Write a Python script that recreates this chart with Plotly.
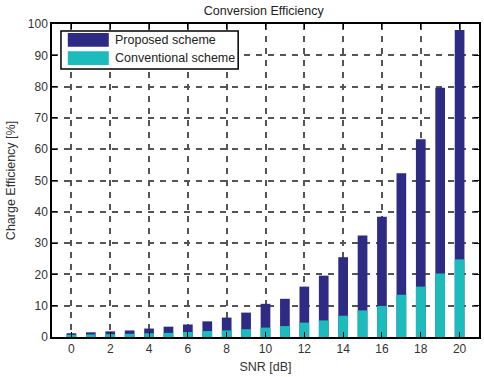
import plotly.graph_objects as go

snr = list(range(0, 21))
proposed = [1.2, 1.5, 1.8, 2.1, 2.7, 3.3, 4.0, 5.0, 6.2, 7.8, 10.6, 12.2, 16.1, 19.6, 25.5,
            32.4, 38.4, 52.3, 63.2, 79.6, 98.1]
conventional = [0.7, 0.8, 0.9, 1.0, 1.2, 1.3, 1.6, 1.9, 2.1, 2.5, 3.0, 3.5, 4.6, 5.3, 6.8,
                8.5, 9.9, 13.5, 16.1, 20.3, 24.8]
series_names = ["Proposed scheme", "Conventional scheme"]
colors = ["#2d2b84", "#1cbcbc"]
x_ticks = list(range(0, 21, 2))
y_ticks = list(range(0, 101, 10))

fig = go.Figure()
for name, vals, c in zip(series_names, [proposed, conventional], colors):
    fig.add_trace(go.Bar(x=snr, y=vals, name=name, marker=dict(color=c, line=dict(width=0)),
                         width=0.5, showlegend=False))

font = "Liberation Sans, Arial, sans-serif"
axis_common = dict(showline=True, linecolor="black", linewidth=1.5, mirror="ticks",
                   ticks="inside", ticklen=5, tickwidth=1, tickcolor="black",
                   showgrid=True, gridcolor="#555555", gridwidth=1.5, griddash="6px,6px",
                   zeroline=False, tickfont=dict(family=font, size=12, color="#333333"))

fig.update_layout(
    width=484, height=377,
    margin=dict(l=52, r=3, t=24, b=40),
    paper_bgcolor="white", plot_bgcolor="white",
    barmode="overlay",
    title=dict(text="Conversion Efficiency", x=0.545, xanchor="center", y=0.971, yanchor="middle",
               font=dict(family=font, size=12.5, color="#222222")),
    xaxis=dict(range=[-1, 21], tickvals=x_ticks,
               title=dict(text="SNR [dB]", standoff=7, font=dict(family=font, size=12.5, color="#333333")),
               **axis_common),
    yaxis=dict(range=[0, 100], tickvals=y_ticks,
               title=dict(text="Charge Efficiency [%]", standoff=9, font=dict(family=font, size=12.5, color="#333333")),
               **axis_common),
)

# custom legend box (MATLAB style)
fig.add_shape(type="rect", xref="paper", yref="paper", x0=0.021, x1=0.436, y0=0.856, y1=0.978,
              line=dict(color="black", width=1.5), fillcolor="white", layer="above")
rows_y = [0.949, 0.891]
for name, c, yy in zip(series_names, colors, rows_y):
    fig.add_shape(type="rect", xref="paper", yref="paper", x0=0.037, x1=0.133, y0=yy - 0.022, y1=yy + 0.022,
                  line=dict(width=0), fillcolor=c, layer="above")
    fig.add_annotation(xref="paper", yref="paper", x=0.142, y=yy, text=name, showarrow=False,
                       xanchor="left", yanchor="middle",
                       font=dict(family=font, size=12.5, color="#222222"))

fig.write_html("out.html")
